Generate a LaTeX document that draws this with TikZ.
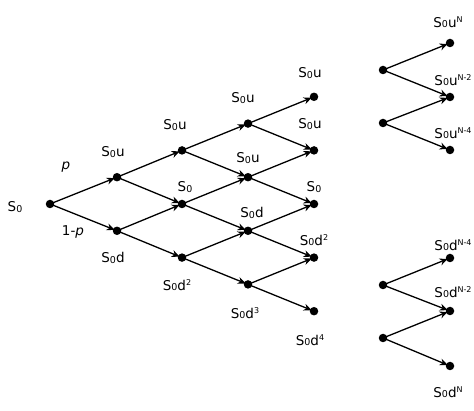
\documentclass[tikz,border=0pt]{standalone}
\usepackage{fontspec}
\setmainfont{DejaVu Sans}
\usetikzlibrary{arrows.meta}
\newcommand{\Sz}{S\raisebox{-0.6pt}{\fontsize{9.5}{9.5}\selectfont 0}}
\newcommand{\spx}[1]{\raisebox{5pt}{\fontsize{8}{8}\selectfont #1}}
\begin{document}
\begin{tikzpicture}[x=1pt,y=-1pt,
  dot/.style={circle,fill=black,inner sep=0pt,minimum size=8.5pt},
  edge/.style={line width=1.3pt,-{Stealth[length=8pt,width=7pt]},shorten >=2.5pt},
  lbl/.style={font=\fontsize{13.5}{13.5}\selectfont,inner sep=0pt,anchor=center}]
\useasboundingbox (0,0) rectangle (474,411);
% binomial tree nodes
\node[dot] (n00) at (50,204) {};
\node[dot] (n10) at (117,177.2) {};
\node[dot] (n11) at (117,230.8) {};
\node[dot] (n20) at (182,150.4) {};
\node[dot] (n21) at (182,204) {};
\node[dot] (n22) at (182,257.6) {};
\node[dot] (n30) at (248,123.6) {};
\node[dot] (n31) at (248,177.2) {};
\node[dot] (n32) at (248,230.8) {};
\node[dot] (n33) at (248,284.4) {};
\node[dot] (n40) at (314,96.8) {};
\node[dot] (n41) at (314,150.4) {};
\node[dot] (n42) at (314,204) {};
\node[dot] (n43) at (314,257.6) {};
\node[dot] (n44) at (314,311.2) {};
% right groups
\node[dot] (a0) at (383,70) {};
\node[dot] (a1) at (383,123) {};
\node[dot] (b0) at (450,43) {};
\node[dot] (b1) at (450,97) {};
\node[dot] (b2) at (450,150) {};
\node[dot] (c0) at (383,285) {};
\node[dot] (c1) at (383,338) {};
\node[dot] (d0) at (450,258) {};
\node[dot] (d1) at (450,311) {};
\node[dot] (d2) at (450,366) {};
% edges
\foreach \a/\b in {n00/n10,n00/n11,
  n10/n20,n10/n21,n11/n21,n11/n22,
  n20/n30,n20/n31,n21/n31,n21/n32,n22/n32,n22/n33,
  n30/n40,n30/n41,n31/n41,n31/n42,n32/n42,n32/n43,n33/n43,n33/n44,
  a0/b0,a0/b1,a1/b1,a1/b2,c0/d0,c0/d1,c1/d1,c1/d2}
  \draw[edge] (\a.center) -- (\b.center);
% labels
\node[lbl] (t00) at (15,207) {\Sz};
\node[lbl] (tp) at (66,167) {\textit{p}};
\node[lbl] (tq) at (73,232) {1-\textit{p}};
\node[lbl] (t10) at (113,152) {\Sz u};
\node[lbl] (t11) at (113,258) {\Sz d};
\node[lbl] (t20) at (175,125) {\Sz u};
\node[lbl] (t21) at (185,187) {\Sz};
\node[lbl] (t22) at (177,285) {\Sz d\spx{2}};
\node[lbl] (t30) at (243,98) {\Sz u};
\node[lbl] (t31) at (248,158) {\Sz u};
\node[lbl] (t32) at (252,213) {\Sz d};
\node[lbl] (t33) at (245,313) {\Sz d\spx{3}};
\node[lbl] (t40) at (310,73) {\Sz u};
\node[lbl] (t41) at (310,124) {\Sz u};
\node[lbl] (t42) at (314,187) {\Sz};
\node[lbl] (t43) at (314,240) {\Sz d\spx{2}};
\node[lbl] (t44) at (310,340) {\Sz d\spx{4}};
\node[lbl] (tb0) at (448,22) {\Sz u\spx{N}};
\node[lbl] (tb1) at (453,80) {\Sz u\spx{N-2}};
\node[lbl] (tb2) at (453,133) {\Sz u\spx{N-4}};
\node[lbl] (td0) at (453,245) {\Sz d\spx{N-4}};
\node[lbl] (td1) at (453,292) {\Sz d\spx{N-2}};
\node[lbl] (td2) at (448,392) {\Sz d\spx{N}};
\end{tikzpicture}
\end{document}
